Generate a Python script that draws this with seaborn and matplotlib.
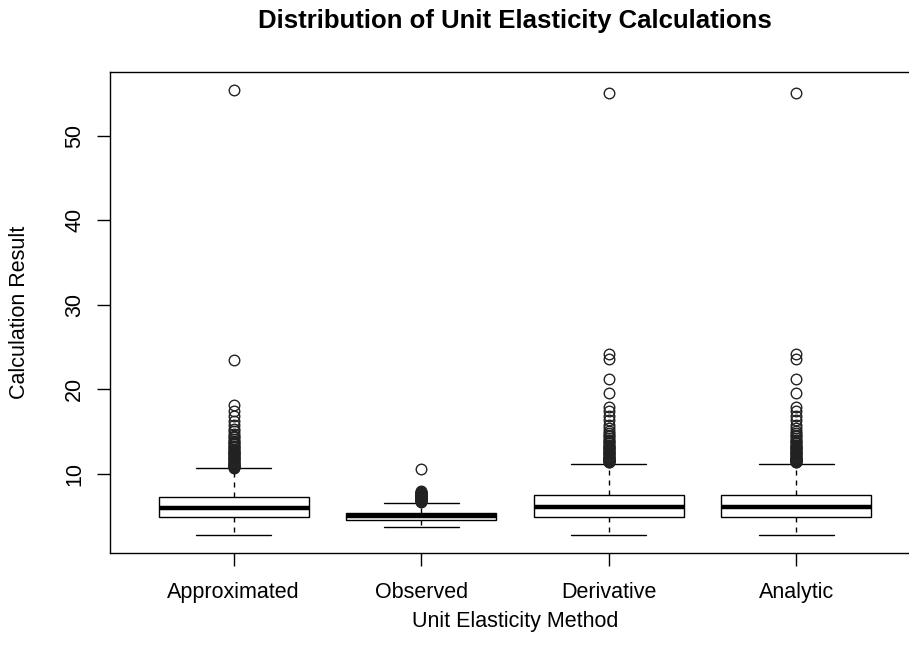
import numpy as np
import pandas as pd
import matplotlib
matplotlib.use("Agg")
import matplotlib.pyplot as plt
import seaborn as sns

# ---- data ----
methods = ["Approximated", "Observed", "Derivative", "Analytic"]

# five-number box summaries: lower whisker, Q1, median, Q3, upper whisker
whisker_low = [2.75, 3.72, 2.75, 2.75]
q1 = [4.85, 4.55, 4.85, 4.85]
median = [5.95, 4.96, 6.07, 6.07]
q3 = [7.18, 5.38, 7.44, 7.44]
whisker_high = [10.65, 6.50, 11.14, 11.14]

outliers_approximated = [55.4, 23.5, 18.1, 17.4, 16.8, 16.2, 15.7, 15.3, 15.0, 14.7,
                         14.5, 14.3, 14.1, 13.9, 13.8, 13.6, 13.5, 13.3, 13.2, 13.1,
                         12.9, 12.8, 12.7, 12.6, 12.5, 12.4, 12.3, 12.2, 12.1, 12.0,
                         11.9, 11.8, 11.7, 11.6, 11.5, 11.4, 11.3, 11.2, 11.1, 11.0,
                         10.95, 10.9, 10.85, 10.8, 10.75, 10.7]
outliers_observed = [10.5, 7.9, 7.85, 7.8, 7.75, 7.7, 7.65, 7.6, 7.55, 7.5, 7.45,
                     7.4, 7.35, 7.3, 7.25, 7.2, 7.15, 7.1, 7.05, 7.0, 6.95, 6.9,
                     6.85, 6.8, 6.75, 6.7]
outliers_derivative = [55.1, 24.2, 23.6, 21.2, 19.6, 17.9, 17.4, 16.8, 16.3, 15.8,
                       15.4, 15.1, 14.8, 14.6, 14.4, 14.2, 14.0, 13.9, 13.7, 13.6,
                       13.4, 13.3, 13.2, 13.1, 13.0, 12.9, 12.8, 12.7, 12.6, 12.5,
                       12.4, 12.3, 12.2, 12.1, 12.0, 11.9, 11.8, 11.75, 11.7, 11.65,
                       11.6, 11.55, 11.5, 11.45, 11.4, 11.35]
outliers_analytic = [55.1, 24.2, 23.6, 21.2, 19.6, 17.9, 17.4, 16.8, 16.3, 15.8,
                     15.4, 15.1, 14.8, 14.6, 14.4, 14.2, 14.0, 13.9, 13.7, 13.6,
                     13.4, 13.3, 13.2, 13.1, 13.0, 12.9, 12.8, 12.7, 12.6, 12.5,
                     12.4, 12.3, 12.2, 12.1, 12.0, 11.9, 11.8, 11.75, 11.7, 11.65,
                     11.6, 11.55, 11.5, 11.45, 11.4, 11.35]
outliers = [outliers_approximated, outliers_observed, outliers_derivative, outliers_analytic]

# ---- build a sample per method whose quartiles/whiskers reproduce the summaries ----
rows = []
for i, m in enumerate(methods):
    outs = sorted(outliers[i])
    k = len(outs) + 1
    vals = ([whisker_low[i]] + [q1[i]] * (k - 1) + [q1[i]]
            + [median[i]] * (k - 1) + [median[i]]
            + [q3[i]] * (k - 1) + [q3[i]]
            + [whisker_high[i]] + outs)
    rows += [(m, v) for v in vals]
df = pd.DataFrame(rows, columns=["method", "value"])

sns.set_theme(style="white")
plt.rcParams["font.family"] = ["Liberation Sans", "DejaVu Sans"]

fig = plt.figure(figsize=(9.09, 6.58), dpi=100)
ax = fig.add_axes([110 / 909, 1 - 552.7 / 658, 810 / 909, 480.4 / 658])

sns.boxplot(data=df, x="method", y="value", order=methods, ax=ax,
            color="white", linecolor="black", linewidth=1.0, width=0.8,
            saturation=1,
            whiskerprops=dict(linestyle=(0, (3.6, 3.6)), color="black"),
            medianprops=dict(linewidth=3.2, color="black"),
            capprops=dict(color="black"),
            flierprops=dict(marker="o", markerfacecolor="none",
                            markeredgecolor="#222222", markersize=7.6,
                            markeredgewidth=1.0))

lo = min(whisker_low)
hi = max(max(o) for o in outliers)
pad = 0.04 * (hi - lo)
ax.set_ylim(lo - pad, hi + pad)
ax.set_xlim(-0.66, 3.66)
ax.set_yticks([10, 20, 30, 40, 50])

for s in ax.spines.values():
    s.set_visible(True)
    s.set_color("black")
    s.set_linewidth(1.0)

ax.tick_params(axis="both", direction="out", length=9.4, width=1.0,
               color="black", labelcolor="black", labelsize=15.5,
               left=True, bottom=True)
ax.tick_params(axis="x", pad=12)
ax.tick_params(axis="y", pad=8.5)
for lab in ax.get_yticklabels():
    lab.set_rotation(90)
    lab.set_va("center")

ax.set_xlabel("")
ax.set_ylabel("")
fig.text(515 / 909, 1 - 621 / 658, "Unit Elasticity Method", ha="center",
         va="center", fontsize=15.5, color="black")
fig.text(20 / 909, 1 - 312 / 658, "Calculation Result", ha="center",
         va="center", rotation=90, fontsize=15.5, color="black")
fig.text(515 / 909, 1 - 21 / 658, "Distribution of Unit Elasticity Calculations",
         ha="center", va="center", fontsize=18.5, fontweight="bold", color="black")

fig.savefig("out.png", dpi=100)
